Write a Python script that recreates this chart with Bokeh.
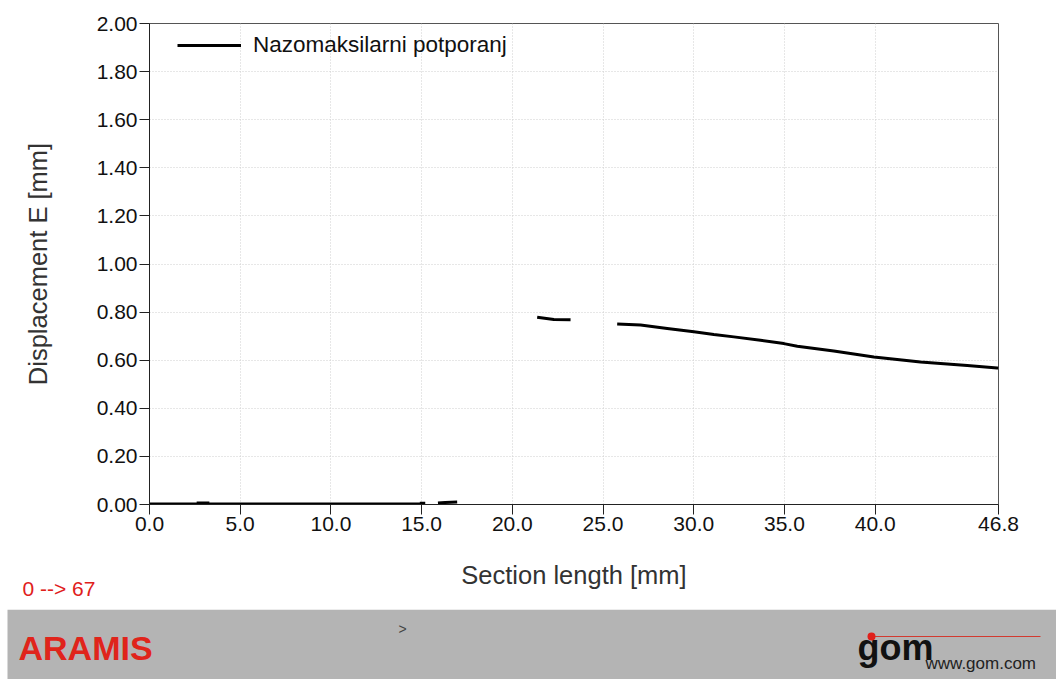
import math
from bokeh.plotting import figure
from bokeh.layouts import column
from bokeh.models import (Range1d, FixedTicker, NumeralTickFormatter, Legend, LegendItem,
                          Label, ColumnDataSource)
from bokeh.core.properties import value
from bokeh.embed import file_html
from bokeh.resources import INLINE

FONT = "Liberation Sans"

# ---- data ----
seg_base_x = [0.0, 2.5, 5.0, 7.5, 10.0, 12.5, 14.9]
seg_base_y = [0.002, 0.002, 0.002, 0.002, 0.002, 0.002, 0.002]
seg_bump_x = [2.6, 3.3]
seg_bump_y = [0.006, 0.006]
seg_b2_x = [14.9, 15.2]
seg_b2_y = [0.005, 0.005]
seg_b3_x = [15.9, 16.3, 16.96]
seg_b3_y = [0.006, 0.008, 0.010]
seg_mid_x = [21.37, 22.29, 23.21]
seg_mid_y = [0.779, 0.769, 0.768]
seg_main_x = [25.78, 27.07, 28.54, 30.01, 31.11, 32.21, 33.68, 34.97, 35.71, 37.72,
              39.93, 42.50, 45.08, 46.73, 46.8]
seg_main_y = [0.751, 0.746, 0.732, 0.718, 0.707, 0.697, 0.683, 0.669, 0.658, 0.638,
              0.613, 0.593, 0.578, 0.568, 0.567]

x_ticks = [0.0, 5.0, 10.0, 15.0, 20.0, 25.0, 30.0, 35.0, 40.0, 46.8]
y_ticks = [0.0, 0.2, 0.4, 0.6, 0.8, 1.0, 1.2, 1.4, 1.6, 1.8, 2.0]
series_name = "Nazomaksilarni potporanj"
stage_note = "0 --> 67"

segments = [(seg_base_x, seg_base_y), (seg_bump_x, seg_bump_y), (seg_b2_x, seg_b2_y),
            (seg_b3_x, seg_b3_y), (seg_mid_x, seg_mid_y), (seg_main_x, seg_main_y)]
xs, ys = [], []
for sx, sy in segments:
    if xs:
        xs.append(math.nan)
        ys.append(math.nan)
    xs.extend(sx)
    ys.extend(sy)
src = ColumnDataSource(dict(x=xs, y=ys))

# ---- main chart ----
p = figure(frame_width=849, frame_height=481,
           x_range=Range1d(0, 46.8), y_range=Range1d(0, 2.0),
           output_backend="svg", toolbar_location=None,
           min_border_left=149, min_border_right=58, min_border_top=23, min_border_bottom=105,
           background_fill_color="white", border_fill_color="white",
           outline_line_color="#555555", outline_line_width=1)
try:
    p.frame_align = False
except Exception:
    pass

r = p.line("x", "y", source=src, line_color="black", line_width=3)

p.xaxis.ticker = FixedTicker(ticks=x_ticks)
p.yaxis.ticker = FixedTicker(ticks=y_ticks)
p.xaxis.formatter = NumeralTickFormatter(format="0.0")
p.yaxis.formatter = NumeralTickFormatter(format="0.00")
p.xaxis.axis_label = "Section length [mm]"
p.yaxis.axis_label = "Displacement E [mm]"

for ax in (p.xaxis, p.yaxis):
    ax.axis_line_color = "#222222"
    ax.axis_line_width = 1
    ax.major_tick_line_color = "#222222"
    ax.major_tick_out = 10
    ax.major_tick_in = 0
    ax.minor_tick_out = 0
    ax.minor_tick_in = 0
    ax.major_label_standoff = 2
    ax.major_label_text_font = FONT
    ax.major_label_text_font_size = "21px"
    ax.major_label_text_color = "#111111"
    ax.axis_label_text_font = FONT
    ax.axis_label_text_font_size = "25.5px"
    ax.axis_label_text_font_style = "normal"
    ax.axis_label_text_color = "#333333"
p.xaxis.axis_label_standoff = 27
p.yaxis.axis_label_standoff = 42

for g in (p.xgrid, p.ygrid):
    g.grid_line_color = "#cfcfcf"
    g.grid_line_dash = "1 2"
    g.grid_line_width = 1

legend = Legend(items=[LegendItem(label=series_name, renderers=[r])],
                location=(24, 442), margin=0, padding=4,
                glyph_width=64, glyph_height=20, label_standoff=12,
                label_text_font=FONT, label_text_font_size="22.5px", label_text_color="#111111",
                border_line_alpha=0, background_fill_alpha=0)
p.add_layout(legend)

# the frame clips centre annotations, so this one lives in the (otherwise empty) top panel
# and is positioned in canvas pixels
note = Label(x=22, y=588, x_units="canvas", y_units="canvas", text=stage_note,
             text_color="#e0201b", text_font=FONT, text_font_size="21px",
             text_baseline="middle")
p.add_layout(note, "above")

# ---- footer banner ----
f = figure(width=1056, height=70, x_range=Range1d(0, 1056), y_range=Range1d(70, 0),
           x_axis_type=None, y_axis_type=None, output_backend="svg", toolbar_location=None,
           min_border=0, background_fill_color="white", border_fill_color="white",
           outline_line_color=None)
try:
    f.frame_align = False
except Exception:
    pass
f.grid.visible = False

f.quad(left=[7], right=[1056], top=[0], bottom=[70], fill_color="#b4b4b4", line_color=None)
f.text(x=[18], y=[38], text=["ARAMIS"], text_font=value(FONT), text_font_style="bold",
       text_font_size="34px", text_color="#e0241b", text_baseline="middle")
f.text(x=[398], y=[19], text=[">"], text_font=value(FONT), text_font_size="14px",
       text_color="#444444", text_baseline="middle")
f.segment(x0=[870], y0=[27], x1=[1040], y1=[27], line_color="#d23a30", line_width=1)
f.text(x=[857], y=[38], text=["gom"], text_font=value(FONT), text_font_style="bold",
       text_font_size="36px", text_color="#111111", text_baseline="alphabetic")
f.scatter(x=[871], y=[27], size=8, fill_color="#e0201b", line_color=None)
f.text(x=[925], y=[54], text=["www.gom.com"], text_font=value(FONT),
       text_font_size="17px", text_color="#222222", text_baseline="middle")

layout = column(p, f, spacing=0)

open("out.html", "w").write(file_html(layout, INLINE))
